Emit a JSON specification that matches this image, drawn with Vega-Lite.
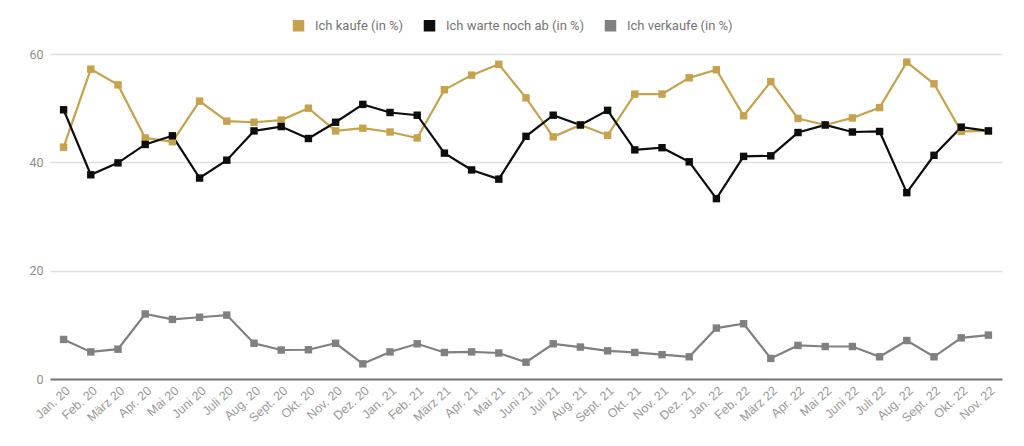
{
  "$schema": "https://vega.github.io/schema/vega-lite/v6.json",
  "width": 952,
  "height": 325,
  "autosize": {"type": "none"},
  "padding": {"left": 50, "top": 54, "right": 22, "bottom": 67},
  "config": {
    "font": "Roboto",
    "view": {"stroke": null},
    "axis": {"labelColor": "#8f8f8f", "labelFontSize": 12, "title": null}
  },
  "data": {
    "values": [
      {"m": "Jan. 20", "s": "Ich kaufe (in %)", "v": 42.8},
      {"m": "Feb. 20", "s": "Ich kaufe (in %)", "v": 57.2},
      {"m": "März 20", "s": "Ich kaufe (in %)", "v": 54.3},
      {"m": "Apr. 20", "s": "Ich kaufe (in %)", "v": 44.5},
      {"m": "Mai 20", "s": "Ich kaufe (in %)", "v": 43.8},
      {"m": "Juni 20", "s": "Ich kaufe (in %)", "v": 51.3},
      {"m": "Juli 20", "s": "Ich kaufe (in %)", "v": 47.6},
      {"m": "Aug. 20", "s": "Ich kaufe (in %)", "v": 47.4},
      {"m": "Sept. 20", "s": "Ich kaufe (in %)", "v": 47.8},
      {"m": "Okt. 20", "s": "Ich kaufe (in %)", "v": 50.0},
      {"m": "Nov. 20", "s": "Ich kaufe (in %)", "v": 45.8},
      {"m": "Dez. 20", "s": "Ich kaufe (in %)", "v": 46.3},
      {"m": "Jan. 21", "s": "Ich kaufe (in %)", "v": 45.6},
      {"m": "Feb. 21", "s": "Ich kaufe (in %)", "v": 44.5},
      {"m": "März 21", "s": "Ich kaufe (in %)", "v": 53.4},
      {"m": "Apr. 21", "s": "Ich kaufe (in %)", "v": 56.1},
      {"m": "Mai 21", "s": "Ich kaufe (in %)", "v": 58.1},
      {"m": "Juni 21", "s": "Ich kaufe (in %)", "v": 51.9},
      {"m": "Juli 21", "s": "Ich kaufe (in %)", "v": 44.7},
      {"m": "Aug. 21", "s": "Ich kaufe (in %)", "v": 46.9},
      {"m": "Sept. 21", "s": "Ich kaufe (in %)", "v": 45.0},
      {"m": "Okt. 21", "s": "Ich kaufe (in %)", "v": 52.6},
      {"m": "Nov. 21", "s": "Ich kaufe (in %)", "v": 52.6},
      {"m": "Dez. 21", "s": "Ich kaufe (in %)", "v": 55.6},
      {"m": "Jan. 22", "s": "Ich kaufe (in %)", "v": 57.1},
      {"m": "Feb. 22", "s": "Ich kaufe (in %)", "v": 48.6},
      {"m": "März 22", "s": "Ich kaufe (in %)", "v": 54.9},
      {"m": "Apr. 22", "s": "Ich kaufe (in %)", "v": 48.1},
      {"m": "Mai 22", "s": "Ich kaufe (in %)", "v": 46.9},
      {"m": "Juni 22", "s": "Ich kaufe (in %)", "v": 48.2},
      {"m": "Juli 22", "s": "Ich kaufe (in %)", "v": 50.1},
      {"m": "Aug. 22", "s": "Ich kaufe (in %)", "v": 58.5},
      {"m": "Sept. 22", "s": "Ich kaufe (in %)", "v": 54.5},
      {"m": "Okt. 22", "s": "Ich kaufe (in %)", "v": 45.7},
      {"m": "Nov. 22", "s": "Ich kaufe (in %)", "v": 45.8},
      {"m": "Jan. 20", "s": "Ich warte noch ab (in %)", "v": 49.7},
      {"m": "Feb. 20", "s": "Ich warte noch ab (in %)", "v": 37.7},
      {"m": "März 20", "s": "Ich warte noch ab (in %)", "v": 39.9},
      {"m": "Apr. 20", "s": "Ich warte noch ab (in %)", "v": 43.3},
      {"m": "Mai 20", "s": "Ich warte noch ab (in %)", "v": 44.9},
      {"m": "Juni 20", "s": "Ich warte noch ab (in %)", "v": 37.1},
      {"m": "Juli 20", "s": "Ich warte noch ab (in %)", "v": 40.4},
      {"m": "Aug. 20", "s": "Ich warte noch ab (in %)", "v": 45.8},
      {"m": "Sept. 20", "s": "Ich warte noch ab (in %)", "v": 46.6},
      {"m": "Okt. 20", "s": "Ich warte noch ab (in %)", "v": 44.4},
      {"m": "Nov. 20", "s": "Ich warte noch ab (in %)", "v": 47.4},
      {"m": "Dez. 20", "s": "Ich warte noch ab (in %)", "v": 50.7},
      {"m": "Jan. 21", "s": "Ich warte noch ab (in %)", "v": 49.2},
      {"m": "Feb. 21", "s": "Ich warte noch ab (in %)", "v": 48.7},
      {"m": "März 21", "s": "Ich warte noch ab (in %)", "v": 41.7},
      {"m": "Apr. 21", "s": "Ich warte noch ab (in %)", "v": 38.6},
      {"m": "Mai 21", "s": "Ich warte noch ab (in %)", "v": 36.9},
      {"m": "Juni 21", "s": "Ich warte noch ab (in %)", "v": 44.8},
      {"m": "Juli 21", "s": "Ich warte noch ab (in %)", "v": 48.7},
      {"m": "Aug. 21", "s": "Ich warte noch ab (in %)", "v": 46.9},
      {"m": "Sept. 21", "s": "Ich warte noch ab (in %)", "v": 49.6},
      {"m": "Okt. 21", "s": "Ich warte noch ab (in %)", "v": 42.3},
      {"m": "Nov. 21", "s": "Ich warte noch ab (in %)", "v": 42.7},
      {"m": "Dez. 21", "s": "Ich warte noch ab (in %)", "v": 40.1},
      {"m": "Jan. 22", "s": "Ich warte noch ab (in %)", "v": 33.3},
      {"m": "Feb. 22", "s": "Ich warte noch ab (in %)", "v": 41.1},
      {"m": "März 22", "s": "Ich warte noch ab (in %)", "v": 41.2},
      {"m": "Apr. 22", "s": "Ich warte noch ab (in %)", "v": 45.5},
      {"m": "Mai 22", "s": "Ich warte noch ab (in %)", "v": 46.9},
      {"m": "Juni 22", "s": "Ich warte noch ab (in %)", "v": 45.6},
      {"m": "Juli 22", "s": "Ich warte noch ab (in %)", "v": 45.7},
      {"m": "Aug. 22", "s": "Ich warte noch ab (in %)", "v": 34.4},
      {"m": "Sept. 22", "s": "Ich warte noch ab (in %)", "v": 41.3},
      {"m": "Okt. 22", "s": "Ich warte noch ab (in %)", "v": 46.5},
      {"m": "Nov. 22", "s": "Ich warte noch ab (in %)", "v": 45.8},
      {"m": "Jan. 20", "s": "Ich verkaufe (in %)", "v": 7.3},
      {"m": "Feb. 20", "s": "Ich verkaufe (in %)", "v": 5.0},
      {"m": "März 20", "s": "Ich verkaufe (in %)", "v": 5.5},
      {"m": "Apr. 20", "s": "Ich verkaufe (in %)", "v": 12.0},
      {"m": "Mai 20", "s": "Ich verkaufe (in %)", "v": 11.0},
      {"m": "Juni 20", "s": "Ich verkaufe (in %)", "v": 11.4},
      {"m": "Juli 20", "s": "Ich verkaufe (in %)", "v": 11.8},
      {"m": "Aug. 20", "s": "Ich verkaufe (in %)", "v": 6.6},
      {"m": "Sept. 20", "s": "Ich verkaufe (in %)", "v": 5.35},
      {"m": "Okt. 20", "s": "Ich verkaufe (in %)", "v": 5.4},
      {"m": "Nov. 20", "s": "Ich verkaufe (in %)", "v": 6.6},
      {"m": "Dez. 20", "s": "Ich verkaufe (in %)", "v": 2.8},
      {"m": "Jan. 21", "s": "Ich verkaufe (in %)", "v": 5.0},
      {"m": "Feb. 21", "s": "Ich verkaufe (in %)", "v": 6.5},
      {"m": "März 21", "s": "Ich verkaufe (in %)", "v": 4.9},
      {"m": "Apr. 21", "s": "Ich verkaufe (in %)", "v": 5.0},
      {"m": "Mai 21", "s": "Ich verkaufe (in %)", "v": 4.8},
      {"m": "Juni 21", "s": "Ich verkaufe (in %)", "v": 3.1},
      {"m": "Juli 21", "s": "Ich verkaufe (in %)", "v": 6.5},
      {"m": "Aug. 21", "s": "Ich verkaufe (in %)", "v": 5.9},
      {"m": "Sept. 21", "s": "Ich verkaufe (in %)", "v": 5.2},
      {"m": "Okt. 21", "s": "Ich verkaufe (in %)", "v": 4.9},
      {"m": "Nov. 21", "s": "Ich verkaufe (in %)", "v": 4.5},
      {"m": "Dez. 21", "s": "Ich verkaufe (in %)", "v": 4.1},
      {"m": "Jan. 22", "s": "Ich verkaufe (in %)", "v": 9.4},
      {"m": "Feb. 22", "s": "Ich verkaufe (in %)", "v": 10.2},
      {"m": "März 22", "s": "Ich verkaufe (in %)", "v": 3.8},
      {"m": "Apr. 22", "s": "Ich verkaufe (in %)", "v": 6.2},
      {"m": "Mai 22", "s": "Ich verkaufe (in %)", "v": 6.0},
      {"m": "Juni 22", "s": "Ich verkaufe (in %)", "v": 6.0},
      {"m": "Juli 22", "s": "Ich verkaufe (in %)", "v": 4.1},
      {"m": "Aug. 22", "s": "Ich verkaufe (in %)", "v": 7.1},
      {"m": "Sept. 22", "s": "Ich verkaufe (in %)", "v": 4.1},
      {"m": "Okt. 22", "s": "Ich verkaufe (in %)", "v": 7.6},
      {"m": "Nov. 22", "s": "Ich verkaufe (in %)", "v": 8.1}
    ]
  },
  "mark": {
    "type": "line",
    "strokeWidth": 2.2,
    "point": {"shape": "square", "filled": true, "size": 55, "opacity": 1}
  },
  "encoding": {
    "x": {
      "field": "m",
      "type": "ordinal",
      "sort": null,
      "scale": {"padding": 0.5},
      "axis": {
        "labelAngle": -42,
        "labelPadding": 5,
        "labelFont": "Liberation Sans",
        "labelFontSize": 12.5,
        "labelColor": "#9a9a9a",
        "ticks": false,
        "domainColor": "#757575",
        "domainWidth": 2,
        "grid": false
      }
    },
    "y": {
      "field": "v",
      "type": "quantitative",
      "scale": {"domain": [0, 60], "nice": false},
      "axis": {
        "values": [0, 20, 40, 60],
        "domain": false,
        "ticks": false,
        "labelPadding": 7,
        "labelFontSize": 12.5,
        "gridColor": "#e0e0e0",
        "gridWidth": 1.5
      }
    },
    "color": {
      "field": "s",
      "type": "nominal",
      "sort": null,
      "scale": {
        "domain": ["Ich kaufe (in %)", "Ich warte noch ab (in %)", "Ich verkaufe (in %)"],
        "range": ["#c6a24c", "#0d0d0d", "#808080"]
      },
      "legend": {
        "title": null,
        "orient": "none",
        "direction": "horizontal",
        "legendX": 242,
        "legendY": -35,
        "symbolType": "square",
        "symbolSize": 100,
        "symbolOpacity": 1,
        "labelColor": "#757575",
        "labelFontSize": 13,
        "labelOffset": 10,
        "columnPadding": 17
      }
    }
  }
}
